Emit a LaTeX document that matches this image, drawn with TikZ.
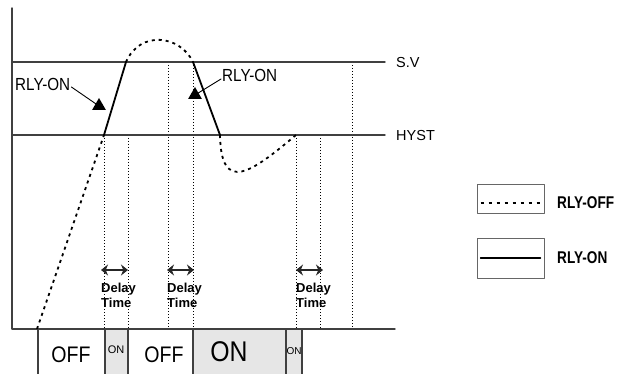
\documentclass[tikz,border=0pt]{standalone}
\usepackage{fontspec}
\setmainfont{Liberation Sans}
\newfontfamily\condsf[FakeStretch=0.87]{Liberation Sans}
\newfontfamily\condbf[FakeStretch=0.8]{Liberation Sans}
\usetikzlibrary{shapes.geometric,arrows.meta}
\definecolor{ongrey}{HTML}{E6E6E6}
\definecolor{axisgrey}{HTML}{404040}
\begin{document}
\begin{tikzpicture}[x=1pt,y=-1pt,line cap=round,line join=round,>=Stealth,
  axisline/.style={line width=1.4pt,draw=axisgrey},
  onpart/.style={line width=1.8pt},
  offpart/.style={line width=1.8pt,line cap=butt,dash pattern=on 3pt off 4pt},
  guide/.style={line width=1pt,line cap=butt,dash pattern=on 1pt off 2pt},
  tipmark/.style={regular polygon,regular polygon sides=3,fill,inner sep=0pt,minimum size=16pt},
  leader/.style={line width=0.9pt},
  lbl/.style={inner sep=1pt,font=\fontsize{14.5pt}{16pt}\selectfont},
  onlbl/.style={inner sep=1pt,font=\condsf\fontsize{17.5pt}{19pt}\selectfont},
  delayarrow/.style={line width=2.8pt,draw=black!85,{Stealth[length=7pt,width=11pt]}-{Stealth[length=7pt,width=11pt]}},
  delaytext/.style={inner sep=1pt,align=left,font=\bfseries\fontsize{13pt}{14.5pt}\selectfont},
  boxline/.style={line width=1.1pt,draw=axisgrey},
  statetext/.style={inner sep=0pt,font=\condsf\fontsize{#1}{#1}\selectfont},
  keybox/.style={draw=black!60,line width=0.8pt,minimum width=67pt,minimum height=#1,inner sep=0pt},
  keytext/.style={inner sep=1pt,anchor=west,font=\condbf\bfseries\fontsize{17pt}{18pt}\selectfont}]
  \useasboundingbox (0,0) rectangle (623,374);
  \fill[ongrey] (105,329) rectangle (128,374);
  \fill[ongrey] (193,329) rectangle (302,374);
  \foreach \x in {38,105,128,193,286,302}
    \draw[boxline] (\x,329) -- (\x,374);
  \foreach \x/\y in {104/135,128/135,168/62,193/62,296/135,320/135,352/62}
    \draw[guide] (\x,\y) -- (\x,329);
  \draw[axisline] (12,8) -- (12,329) -- (395,329);
  \draw[axisline] (12,62) -- (385,62);
  \draw[axisline] (12,135) -- (385,135);
  \node[lbl,anchor=west] (svlbl) at (395,63) {S.V};
  \node[lbl,anchor=west] (hystlbl) at (395,136) {HYST};
  \draw[offpart] (37,329) -- (104,135);
  \draw[onpart] (104,135) -- (126,62);
  \draw[offpart] (126,62) .. controls (140,30) and (180,35) .. (193,62);
  \draw[onpart] (193,62) -- (220,135);
  \draw[offpart] (220,135) .. controls (221,195) and (252,172) .. (296,135);
  \node[onlbl,anchor=west] (onlblA) at (14,84) {RLY-ON};
  \node[tipmark] (tipA) at (99,106) {};
  \draw[leader] ([yshift=-3pt]onlblA.east) -- (tipA.center);
  \node[onlbl,anchor=west] (onlblB) at (221,75) {RLY-ON};
  \node[tipmark] (tipB) at (195,95) {};
  \draw[leader] ([yshift=-4pt]onlblB.west) -- (tipB.center);
  \foreach \x/\n in {101/a,167/b,296/c}{
    \coordinate (dl\n) at (\x,270);
    \coordinate (dr\n) at (\x+27,270);
    \draw[delayarrow] (dl\n) -- (dr\n);
    \node[delaytext,anchor=north west] (dt\n) at (\x-1,282) {Delay\\Time};
  }
  \node[statetext=22.5pt] (offA) at (71,355) {OFF};
  \node[inner sep=0pt,font=\fontsize{11pt}{11pt}\selectfont] (onA) at (116,350) {ON};
  \node[statetext=22.5pt] (offB) at (164,355) {OFF};
  \node[statetext=28.5pt] (onB) at (229,352) {ON};
  \node[inner sep=0pt,font=\fontsize{10pt}{10pt}\selectfont] (onC) at (294,351) {ON};
  \node[keybox=29pt] (offkey) at (510.5,198.5) {};
  \draw[line width=1.4pt,line cap=butt,dash pattern=on 3pt off 5pt]
    ([shift={(4,4.5)}]offkey.west) -- ([shift={(-4,4.5)}]offkey.east);
  \node[keytext] (offkeylbl) at (556,203) {RLY-OFF};
  \node[keybox=40pt] (onkey) at (510.5,258) {};
  \draw[line width=1.6pt] ([xshift=4pt]onkey.west) -- ([xshift=-4pt]onkey.east);
  \node[keytext] (onkeylbl) at (556,258) {RLY-ON};
\end{tikzpicture}
\end{document}
